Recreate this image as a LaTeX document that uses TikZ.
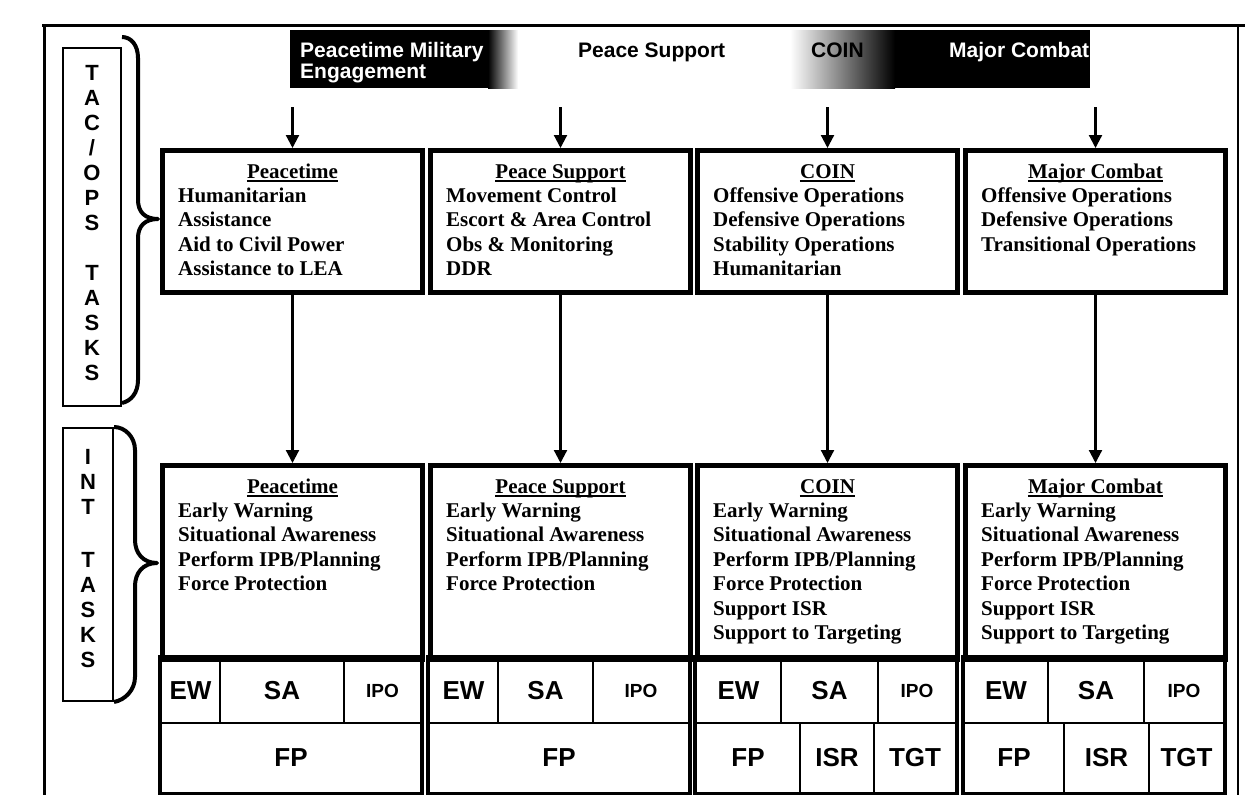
\documentclass[tikz,border=0pt]{standalone}
\usepackage{fontspec}
\setmainfont{Liberation Serif}
\setsansfont{Liberation Sans}
\usetikzlibrary{arrows.meta,calc}

\newcommand{\taskfont}{\fontsize{21}{24}\selectfont\bfseries}
\newcommand{\cellfont}{\fontsize{26}{28}\selectfont\sffamily\bfseries}
\newcommand{\ipofont}{\fontsize{19}{21}\selectfont\sffamily\bfseries}
\newcommand{\bannerfont}{\fontsize{21}{23}\selectfont\sffamily\bfseries}
\newcommand{\sidefont}{\fontsize{22}{25}\selectfont\sffamily\bfseries}

\tikzset{
  rule/.style={line width=3pt},
  opsbox/.style={draw, line width=5pt, anchor=north west, inner sep=0pt,
                 minimum width=260pt, minimum height=142pt},
  intbox/.style={draw, line width=5pt, anchor=north west, inner sep=0pt,
                 minimum width=260pt, minimum height=194pt},
  sidebox/.style={draw, line width=2pt, anchor=north west, inner sep=0pt},
  sideletters/.style={font=\sidefont, align=center, anchor=north, inner sep=0pt},
  brace line/.style={line width=4pt, line join=round},
  head/.style={font=\taskfont, inner sep=0pt, anchor=base},
  item/.style={font=\taskfont, inner sep=0pt, anchor=base west},
  cell/.style={draw, line width=2pt, anchor=north west, inner sep=0pt},
  gridframe/.style={line width=4pt},
  flow/.style={line width=2.2pt, -{Triangle[width=13pt,length=13pt]}},
  bannertext/.style={font=\bannerfont, inner sep=0pt, anchor=base west},
}

% underlined heading of a task box
\newcommand{\taskhead}[3]{%
  \node[head] (#1) at ($(#2.north)+(0,30)$) {#3};
  \draw[line width=1.3pt] ([yshift=-3pt]#1.base west) -- ([yshift=-3pt]#1.base east);}
% list of tasks below the heading
\newcommand{\tasklist}[2]{%
  \foreach \s [count=\k] in {#2}
    \node[item] (#1-\k) at ($(#1.north west)+(18,30+24.4*\k)$) {\s};}
% one cell of a capability grid: name, x1, x2, y1, y2, font, text
\newcommand{\gcell}[7]{%
  \node[cell, font=#6, minimum width={#3-#2}, minimum height={#5-#4}] (#1) at (#2,#4) {#7};}

\begin{document}
\begin{tikzpicture}[x=1pt,y=-1pt]
\useasboundingbox (0,0) rectangle (1245,795);
\fill[white] (0,0) rectangle (1245,795);

% outer frame
\draw[rule] (42,25) -- (1245,25);
\draw[rule] (44,25) -- (44,795);
\draw[line width=1.5pt] (1238,25) -- (1238,795);

% spectrum banner
\fill[black] (290,30) rectangle (488,88);
\shade[left color=black, right color=white] (488,30) rectangle (518,88);
\shade[left color=white, right color=black] (790,30) rectangle (895,88);
\fill[black] (895,30) rectangle (1090,88);
\node[anchor=north west, inner sep=0pt, minimum width=800pt, minimum height=58pt] (banner) at (290,30) {};
\node[bannertext, text=white] (bn1) at (300,57) {Peacetime Military};
\node[bannertext, text=white] (bn2) at (300,78) {Engagement};
\node[bannertext] (bn3) at (578,57) {Peace Support};
\node[bannertext] (bn4) at (811,57) {COIN};
\node[bannertext, text=white] (bn5) at (949,57) {Major Combat};

% side labels
\node[sidebox, minimum width=58pt, minimum height=358pt] (tac) at (62,47) {};
\node[sideletters] (tacl) at ($(tac.north)+(0,18)$)
  {T\\A\\C\\/\\O\\P\\S\\[25pt]T\\A\\S\\K\\S};
\node[sidebox, minimum width=50pt, minimum height=273pt] (int) at (62,427) {};
\node[sideletters] (intl) at ($(int.north)+(0,22)$)
  {I\\N\\T\\[28pt]T\\A\\S\\K\\S};

\coordinate (tactip) at (158,219);
\coordinate (inttip) at (157,563);
\draw[brace line] ([yshift=10pt]tac.north east) .. controls (131,37) and (138,45) .. (138,58)
  -- (138,200) .. controls (138,212) and (145,219) .. (tactip)
  .. controls (145,219) and (138,226) .. (138,238)
  -- (138,380) .. controls (138,393) and (131,401) .. ([yshift=4pt]tac.south east);
\draw[brace line] (int.north east) .. controls (125,427) and (135,437) .. (135,450)
  -- (135,540) .. controls (135,553) and (143,563) .. (inttip)
  .. controls (143,563) and (135,573) .. (135,586)
  -- (135,677) .. controls (135,690) and (125,700) .. (int.south east);

% capability grids
\gcell{a1}{160}{219}{657}{722}{\cellfont}{EW}
\gcell{a2}{219}{343}{657}{722}{\cellfont}{SA}
\gcell{a3}{343}{420}{657}{722}{\ipofont}{IPO}
\gcell{a4}{160}{420}{722}{792}{\cellfont}{FP}
\draw[gridframe] (a1.north west) rectangle (a4.south east);

\gcell{b1}{428}{497}{657}{722}{\cellfont}{EW}
\gcell{b2}{497}{592}{657}{722}{\cellfont}{SA}
\gcell{b3}{592}{688}{657}{722}{\ipofont}{IPO}
\gcell{b4}{428}{688}{722}{792}{\cellfont}{FP}
\draw[gridframe] (b1.north west) rectangle (b4.south east);

\gcell{c1}{695}{780}{657}{722}{\cellfont}{EW}
\gcell{c2}{780}{877}{657}{722}{\cellfont}{SA}
\gcell{c3}{877}{955}{657}{722}{\ipofont}{IPO}
\gcell{c4}{695}{799}{722}{792}{\cellfont}{FP}
\gcell{c5}{799}{873}{722}{792}{\cellfont}{ISR}
\gcell{c6}{873}{955}{722}{792}{\cellfont}{TGT}
\draw[gridframe] (c1.north west) rectangle (c6.south east);

\gcell{d1}{963}{1047}{657}{722}{\cellfont}{EW}
\gcell{d2}{1047}{1143}{657}{722}{\cellfont}{SA}
\gcell{d3}{1143}{1223}{657}{722}{\ipofont}{IPO}
\gcell{d4}{963}{1063}{722}{792}{\cellfont}{FP}
\gcell{d5}{1063}{1148}{722}{792}{\cellfont}{ISR}
\gcell{d6}{1148}{1223}{722}{792}{\cellfont}{TGT}
\draw[gridframe] (d1.north west) rectangle (d6.south east);

% operational task boxes
\node[opsbox] (t1) at (160,148) {};
\node[opsbox] (t2) at (428,148) {};
\node[opsbox] (t3) at (695,148) {};
\node[opsbox] (t4) at (963,148) {};
\taskhead{t1h}{t1}{Peacetime}
\taskhead{t2h}{t2}{Peace Support}
\taskhead{t3h}{t3}{COIN}
\taskhead{t4h}{t4}{Major Combat}
\tasklist{t1}{Humanitarian, Assistance, Aid to Civil Power, Assistance to LEA}
\tasklist{t2}{Movement Control, Escort \& Area Control, Obs \& Monitoring, DDR}
\tasklist{t3}{Offensive Operations, Defensive Operations, Stability Operations, Humanitarian}
\tasklist{t4}{Offensive Operations, Defensive Operations, Transitional Operations}

% intelligence task boxes
\node[intbox] (l1) at (160,463) {};
\node[intbox] (l2) at (428,463) {};
\node[intbox] (l3) at (695,463) {};
\node[intbox] (l4) at (963,463) {};
\taskhead{l1h}{l1}{Peacetime}
\taskhead{l2h}{l2}{Peace Support}
\taskhead{l3h}{l3}{COIN}
\taskhead{l4h}{l4}{Major Combat}
\tasklist{l1}{Early Warning, Situational Awareness, Perform IPB/Planning, Force Protection}
\tasklist{l2}{Early Warning, Situational Awareness, Perform IPB/Planning, Force Protection}
\tasklist{l3}{Early Warning, Situational Awareness, Perform IPB/Planning, Force Protection, Support ISR, Support to Targeting}
\tasklist{l4}{Early Warning, Situational Awareness, Perform IPB/Planning, Force Protection, Support ISR, Support to Targeting}

% flow arrows
\foreach \b in {t1,t2,t3,t4}
  \draw[flow, shorten <=19pt] (\b.north |- banner.south) -- (\b.north);
\draw[flow] (t1.south) -- (l1.north);
\draw[flow] (t2.south) -- (l2.north);
\draw[flow] (t3.south) -- (l3.north);
\draw[flow] (t4.south) -- (l4.north);
\end{tikzpicture}
\end{document}
